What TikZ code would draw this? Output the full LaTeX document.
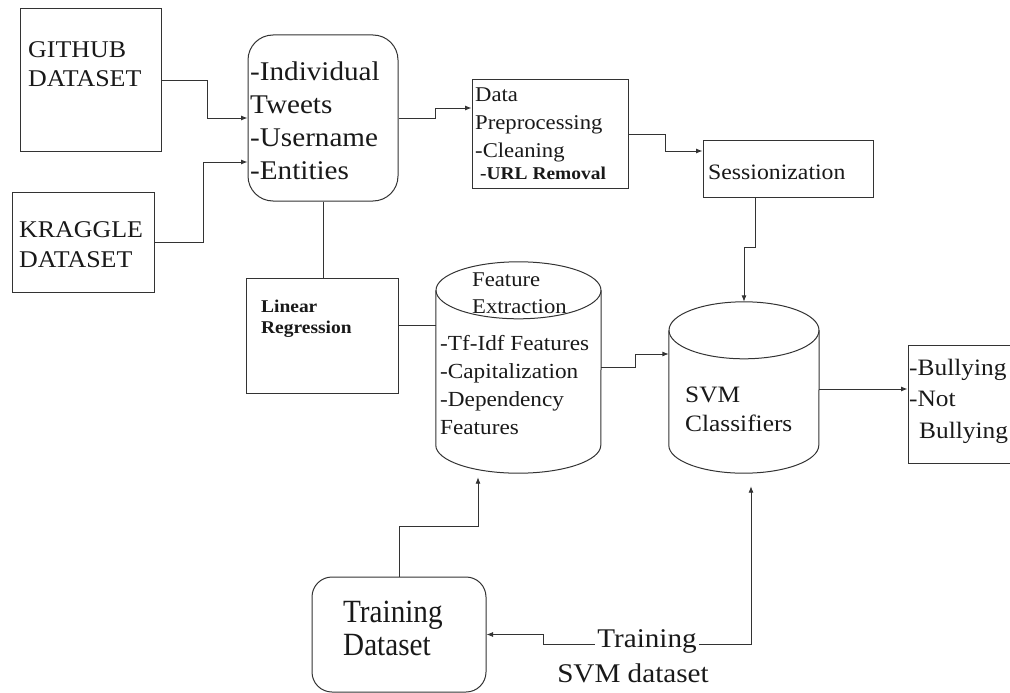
\documentclass[tikz,border=0pt]{standalone}
\usepackage{fontspec}
\usepackage{graphicx}
\setmainfont{Liberation Serif}[FakeStretch=1.08]
\usetikzlibrary{arrows.meta}

\newcommand{\fsz}[2]{\fontsize{#1}{#2}\selectfont}

% multi-line text nodes are placed by the baseline of their last line
\tikzset{
  box/.style={draw=black!80, line width=1pt, inner sep=0pt},
  hidden/.style={inner sep=0pt},
  txt/.style={inner sep=0pt, align=left, anchor=base west, text=black!90},
  conn/.style={draw=black!80, line width=0.9pt},
  arr/.style={conn, -{Latex[length=6.5pt,width=5pt]}},
  cyl/.style={draw=black!80, line width=1pt},
}

\begin{document}
\begin{tikzpicture}[x=1pt, y=-1pt]
\useasboundingbox (0,0) rectangle (1010,693);

% --- data sources ---
\node[box, minimum width=141pt, minimum height=142pt] (gh) at (90.5,80) {};
\node[txt, font=\fsz{24}{29}] (ght) at (28,87) {GITHUB\\DATASET};

\node[box, minimum width=142pt, minimum height=100pt] (kr) at (83,242) {};
\node[txt, font=\fsz{24}{30}] (krt) at (19,267) {KRAGGLE\\DATASET};

% --- tweet fields ---
\node[box, rounded corners=25pt, minimum width=150pt, minimum height=166pt] (tw) at (323,118) {};
\node[txt, font=\fsz{27}{33}] (twt) at (250,179) {-Individual\\Tweets\\-Username\\-Entities};

% --- preprocessing ---
\node[box, minimum width=156pt, minimum height=108pt] (dp) at (550,134) {};
\node[txt, font=\fsz{21}{27.5}] (dpt) at (475,157) {Data\\Preprocessing\\-Cleaning};
\node[txt, font=\fsz{18}{22}\bfseries] (dpu) at (480,179) {-URL Removal};

\node[box, minimum width=170pt, minimum height=57pt] (ss) at (788,168.5) {};
\node[txt, font=\fsz{22}{26}] (sst) at (708,179) {Sessionization};

% --- regression ---
\node[box, minimum width=152pt, minimum height=115pt] (lr) at (322,335.5) {};
\node[txt, font=\fsz{18}{21}\bfseries] (lrt) at (261,333) {Linear\\Regression};

% --- feature extraction store ---
\node[hidden, minimum width=165pt, minimum height=211pt] (fe) at (518.5,367.5) {};
\draw[cyl] ([yshift=-28.5pt]fe.north) ellipse [x radius=82.5pt, y radius=28.5pt];
\draw[cyl] ([yshift=-28.5pt]fe.north west) -- ([yshift=28pt]fe.south west)
  arc[start angle=180, end angle=360, x radius=82.5pt, y radius=28pt]
  -- ([yshift=-28.5pt]fe.north east);
\node[txt, font=\fsz{21}{27}] (fet) at (472,313) {Feature\\Extraction};
\node[txt, font=\fsz{21.5}{28}] (fel) at (440,434) {-Tf-Idf Features\\-Capitalization\\-Dependency\\Features};

% --- classifier store ---
\node[hidden, minimum width=150pt, minimum height=171pt] (svm) at (744,387.5) {};
\draw[cyl] ([yshift=-28.5pt]svm.north) ellipse [x radius=75pt, y radius=28.5pt];
\draw[cyl] ([yshift=-28.5pt]svm.north west) -- ([yshift=28pt]svm.south west)
  arc[start angle=180, end angle=360, x radius=75pt, y radius=28pt]
  -- ([yshift=-28.5pt]svm.north east);
\node[txt, font=\fsz{23.5}{29}] (svmt) at (685,431) {SVM\\Classifiers};

% --- output ---
\node[box, minimum width=107pt, minimum height=118pt] (out) at (961.5,404) {};
\node[txt, font=\fsz{23.5}{31.5}] (outt) at (909,438) {-Bullying\\-Not\\\hspace*{10pt}Bullying};

% --- training data ---
\node[box, rounded corners=20pt, minimum width=174pt, minimum height=115pt] (td) at (399,634.5) {};
\node[txt, font=\fsz{27}{33}] (tdt) at (343,655) {\scalebox{1}[1.2]{Training}\\\scalebox{1}[1.2]{Dataset}};

\node[inner ysep=0pt, inner xsep=2.5pt, anchor=base, font=\fsz{27}{33}, text=black!90] (tsa) at (647,647) {Training};
\node[inner sep=0pt, anchor=base, font=\fsz{27}{33}, text=black!90] (tsb) at (633,682) {SVM dataset};

% --- connectors ---
\draw[arr] (gh.east) -- ++(46,0) |- (tw.west);
\draw[arr] (kr.east) -- ++(49,0) |- ([yshift=-44pt]tw.west);
\draw[arr] (tw.east) -- ++(37,0) |- ([yshift=26pt]dp.west);
\draw[arr] (dp.east) -- ++(37,0) |- ([yshift=17.5pt]ss.west);
\draw[arr] ([xshift=-33pt]ss.south) -- ++(0,50) -| (svm.north);
\draw[conn] (tw.south) -- (tw.south |- lr.north);

\coordinate (lro) at ([yshift=10pt]lr.east);
\draw[conn] (lro) -- (lro -| fe.west);

\draw[arr] (fe.east) -- ++(34,0) |- ([yshift=33.5pt]svm.west);

\coordinate (svo) at ([yshift=-1.5pt]svm.east);
\draw[arr] (svo) -- (svo -| out.west);

\draw[arr, shorten >=4pt] (td.north) -- ++(0,-50) -| ([xshift=-40.5pt]fe.south);

\coordinate (tsr) at ([yshift=-3.3pt]tsa.east);
\coordinate (tsl) at ([yshift=-3.3pt]tsa.west);
\draw[arr, shorten >=13pt] (tsr) -| ([xshift=7pt]svm.south);
\draw[arr] (tsl) -- ++(-51,0) |- (td.east);
\end{tikzpicture}
\end{document}
